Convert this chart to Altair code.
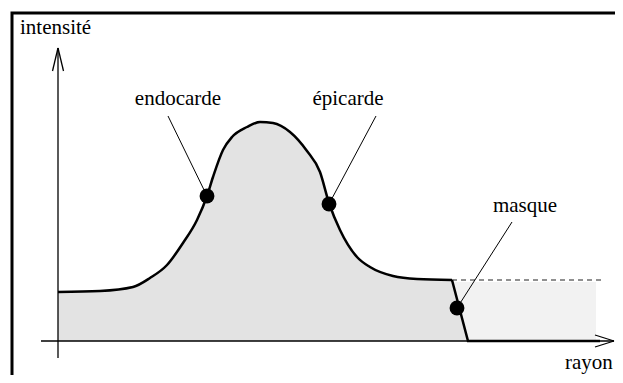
import altair as alt
import pandas as pd

# ---- data (rayon / intensité, arbitrary units) ----
curve_rayon = [0, 42, 75, 92, 109, 125, 139, 149, 155, 165, 174, 189, 202,
               215, 232, 249, 262, 271, 282, 299, 312, 335, 359, 394]
curve_int = [49, 50, 54, 63, 76, 98, 121, 145, 164, 191, 204, 214, 219,
             218, 209, 190, 169, 138, 111, 84, 74, 65, 62, 61]

tail_rayon = [394, 410, 542]
tail_int = [61, 0, 0]

mask_rayon = [394, 538]
mask_int = [0, 59]
threshold_rayon = [394, 544]
threshold_int = 61

pt_labels = ["endocarde", "épicarde", "masque"]
pt_rayon = [149, 271, 399]
pt_int = [145, 137, 33]
lbl_rayon = [120, 290, 467]
lbl_int = [236, 236, 129]
lead_rayon = [110, 318, 454]
lead_int = [225, 225, 119]

axis_names = ["intensité", "rayon"]
axis_lbl_rayon = [-38, 507]
axis_lbl_int = [307, -28]

# axis segments: x-axis, y-axis, arrowheads
ax_x = [-17, 0, 556, 556, 0, 0]
ax_y = [0, -17, 0, 0, 293, 293]
ax_x2 = [556, 0, 537, 537, -5.5, 5.5]
ax_y2 = [0, 293, 6, -6, 270, 270]

# frame box (extends past the right and bottom edges)
frame_box = {"r": -46, "r2": 620, "i": 328, "i2": -80}

XD = [-50, 557]
YD = [-34, 333]


def X(f):
    return alt.X(f, type="quantitative", scale=alt.Scale(domain=XD, nice=False, zero=False), axis=None)


def Y(f):
    return alt.Y(f, type="quantitative", scale=alt.Scale(domain=YD, nice=False, zero=False), axis=None)


curve = pd.DataFrame({"r": curve_rayon, "i": curve_int})
tail = pd.DataFrame({"r": tail_rayon, "i": tail_int})
drop = tail.iloc[:2]
mask = pd.DataFrame({"r": [mask_rayon[0]], "r2": [mask_rayon[1]],
                     "i": [mask_int[0]], "i2": [mask_int[1]]})
thr = pd.DataFrame({"r": [threshold_rayon[0]], "r2": [threshold_rayon[1]],
                    "i": [threshold_int], "i2": [threshold_int]})
pts = pd.DataFrame({"name": pt_labels, "r": pt_rayon, "i": pt_int,
                    "lr": lbl_rayon, "li": lbl_int,
                    "er": lead_rayon, "ei": lead_int})
axl = pd.DataFrame({"name": axis_names, "r": axis_lbl_rayon, "i": axis_lbl_int})
axes = pd.DataFrame({"r": ax_x, "i": ax_y, "r2": ax_x2, "i2": ax_y2})
frame = pd.DataFrame([frame_box])

FONT = "Liberation Serif, Times New Roman, serif"

mask_rect = alt.Chart(mask).mark_rect(color="#f2f2f2").encode(
    x=X("r"), x2="r2", y=Y("i"), y2="i2")
area_main = alt.Chart(curve).mark_area(interpolate="monotone", color="#e3e3e3").encode(
    x=X("r"), y=Y("i"), y2=alt.datum(0))
area_drop = alt.Chart(drop).mark_area(color="#e3e3e3").encode(
    x=X("r"), y=Y("i"), y2=alt.datum(0))
thr_line = alt.Chart(thr).mark_rule(color="#222222", strokeWidth=1.2, strokeDash=[5, 4]).encode(
    x=X("r"), x2="r2", y=Y("i"), y2="i2")
axes_l = alt.Chart(axes).mark_rule(color="black", strokeWidth=1.3).encode(
    x=X("r"), x2="r2", y=Y("i"), y2="i2")
curve_l = alt.Chart(curve).mark_line(interpolate="monotone", color="black", strokeWidth=2.5).encode(
    x=X("r"), y=Y("i"))
tail_l = alt.Chart(tail).mark_line(color="black", strokeWidth=2.5).encode(
    x=X("r"), y=Y("i"))
leaders = alt.Chart(pts).mark_rule(color="black", strokeWidth=1).encode(
    x=X("er"), x2="r", y=Y("ei"), y2="i")
dots = alt.Chart(pts).mark_circle(color="black", opacity=1, size=220).encode(
    x=X("r"), y=Y("i"))
labels = alt.Chart(pts).mark_text(font=FONT, fontSize=21, align="center", baseline="alphabetic",
                                  color="black").encode(x=X("lr"), y=Y("li"), text="name")
ax_labels = alt.Chart(axl).mark_text(font=FONT, fontSize=21, align="left", baseline="alphabetic",
                                     color="black").encode(x=X("r"), y=Y("i"), text="name")
frame_l = alt.Chart(frame).mark_rect(filled=False, stroke="black", strokeWidth=3).encode(
    x=X("r"), x2="r2", y=Y("i"), y2="i2")

chart = alt.layer(
    mask_rect, area_main, area_drop, thr_line, axes_l, curve_l, tail_l,
    leaders, dots, labels, ax_labels, frame_l
).properties(
    width=607, height=367, padding=0, autosize="none", background="white"
).configure_view(stroke=None)

chart.save("out.html", embed_options={"renderer": "svg", "actions": False})
